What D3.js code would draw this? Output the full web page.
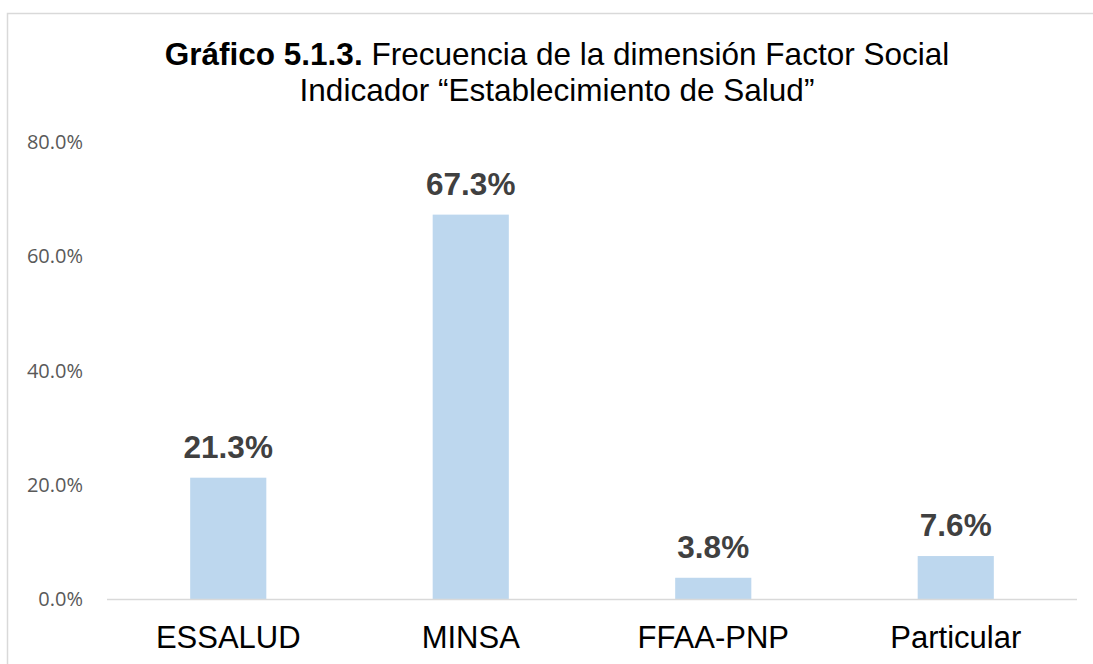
<!DOCTYPE html>
<html>
<head>
<meta charset="utf-8">
<script src="https://cdn.jsdelivr.net/npm/d3@7"></script>
<style>
  body { margin: 0; background: #fff; }
  svg { display: block; }
</style>
</head>
<body>
<div id="chart"></div>
<script>
// data
const categories = ["ESSALUD", "MINSA", "FFAA-PNP", "Particular"];
const values = [21.3, 67.3, 3.8, 7.6];
const yTicks = [0, 20, 40, 60, 80];
const titleBold = "Gráfico 5.1.3.";
const titleRest = " Frecuencia de la dimensión Factor Social";
const titleLine2 = "Indicador “Establecimiento de Salud”";

const W = 1093, H = 664;
const svg = d3.select("#chart").append("svg")
  .attr("width", W).attr("height", H);

// chart frame (runs off the right and bottom edges)
svg.append("rect")
  .attr("x", 7.5).attr("y", 13.5)
  .attr("width", W + 20).attr("height", H + 20)
  .attr("fill", "none").attr("stroke", "#d9d9d9").attr("stroke-width", 1.5);

// title
const title = svg.append("text")
  .attr("x", 557).attr("y", 65)
  .attr("text-anchor", "middle")
  .style("font-family", "'Liberation Sans', Arial, sans-serif")
  .style("font-size", "31.5px").attr("fill", "#000");
title.append("tspan").style("font-weight", "bold").text(titleBold);
title.append("tspan").text(titleRest);
svg.append("text")
  .attr("x", 557).attr("y", 101)
  .attr("text-anchor", "middle")
  .style("font-family", "'Liberation Sans', Arial, sans-serif")
  .style("font-size", "31.5px").attr("fill", "#000")
  .text(titleLine2);

const x = d3.scaleBand().domain(categories).range([107, 1077]).paddingInner(0.686).paddingOuter(0.343);
const y = d3.scaleLinear().domain([0, 80]).range([599.5, 142]);

// y axis labels (no axis line, no gridlines)
const yAxis = d3.axisLeft(y).tickValues(yTicks).tickSize(0).tickPadding(0)
  .tickFormat(d => d.toFixed(1) + "%");
const gy = svg.append("g").attr("transform", "translate(83,0)").call(yAxis);
gy.select(".domain").remove();
gy.selectAll("text")
  .style("font-family", "'Open Sans', sans-serif")
  .style("font-size", "20px")
  .attr("fill", "#595959");

// bars
svg.append("g").selectAll("rect")
  .data(values)
  .join("rect")
  .attr("x", (d, i) => x(categories[i]))
  .attr("y", d => y(d))
  .attr("width", x.bandwidth())
  .attr("height", d => y(0) - y(d))
  .attr("fill", "#bdd7ee");

// baseline
svg.append("line")
  .attr("x1", 107).attr("x2", 1077)
  .attr("y1", y(0)).attr("y2", y(0))
  .attr("stroke", "#d9d9d9").attr("stroke-width", 1.5);

// value labels
svg.append("g").selectAll("text")
  .data(values)
  .join("text")
  .attr("x", (d, i) => x(categories[i]) + x.bandwidth() / 2)
  .attr("y", d => y(d) - 20)
  .attr("text-anchor", "middle")
  .style("font-family", "'Liberation Sans', Arial, sans-serif")
  .style("font-size", "31.5px").style("font-weight", "bold")
  .attr("fill", "#404040")
  .text(d => d.toFixed(1) + "%");

// category labels
const xAxis = d3.axisBottom(x).tickSize(0).tickPadding(0);
const gx = svg.append("g").attr("transform", "translate(0,648)").call(xAxis);
gx.select(".domain").remove();
gx.selectAll("text")
  .attr("dy", 0).attr("y", 0)
  .style("font-family", "'Liberation Sans', Arial, sans-serif")
  .style("font-size", "31px")
  .attr("fill", "#000");
</script>
</body>
</html>
